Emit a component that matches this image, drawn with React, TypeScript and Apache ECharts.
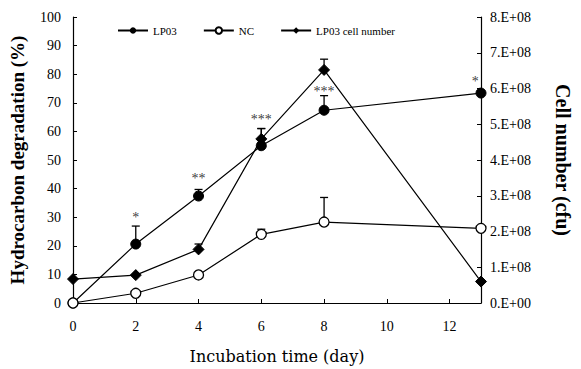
import React, { useEffect, useRef } from "react";
import * as echarts from "echarts";

const days = [0, 2, 4, 6, 8, 13];
const lp03 = [0, 20.6, 37.4, 55, 67.4, 73.4];
const lp03Err = [null, 26.9, 39.7, 61, 72.5, null];
const nc = [0, 3.4, 9.8, 24, 28.3, 26.1];
const ncErr = [null, null, null, 25.8, 36.9, null];
const cellNumber = [0.67e8, 0.78e8, 1.5e8, 4.59e8, 6.52e8, 0.6e8];
const cellErr = [null, null, 1.65e8, 4.88e8, 6.82e8, null];
const sigDays = [2, 4, 6, 8, 12.82];
const sigY = [30, 43.5, 64, 74, 77.5];
const sigLabels = ["*", "**", "***", "***", "*"];

const FONT = "'Liberation Serif', 'DejaVu Serif', serif";
const WIDE = "'DejaVu Serif', serif";

function errData(vals: (number | null)[], tops: (number | null)[]) {
  const out: number[][] = [];
  days.forEach((d, i) => {
    const t = tops[i];
    if (t !== null && t !== undefined) out.push([d, vals[i] as number, t]);
  });
  return out;
}

const errRender = (params: any, api: any) => {
  const x = api.value(0);
  const y = api.value(1);
  const t = api.value(2);
  const p0 = api.coord([x, y]);
  const p1 = api.coord([x, t]);
  const st = { stroke: "#000", lineWidth: 1.3 };
  return {
    type: "group",
    children: [
      { type: "line", shape: { x1: p0[0], y1: p0[1], x2: p1[0], y2: p1[1] }, style: st },
      { type: "line", shape: { x1: p1[0] - 4, y1: p1[1], x2: p1[0] + 4, y2: p1[1] }, style: st },
    ],
  };
};

export default function App() {
  const ref = useRef<HTMLDivElement>(null);
  useEffect(() => {
    if (!ref.current) return;
    const chart = echarts.init(ref.current, null, { renderer: "svg" });
    const axisLine = { show: true, lineStyle: { color: "#000", width: 1.2 } };
    const axisTick = { show: true, inside: true, length: 4, lineStyle: { color: "#000" } };
    chart.setOption({
      animation: false,
      backgroundColor: "#fff",
      textStyle: { fontFamily: FONT },
      grid: { left: 70, right: 89, top: 17, bottom: 65 },
      legend: {
        top: 20,
        left: 112,
        itemWidth: 30,
        itemHeight: 8,
        itemGap: 26,
        textStyle: { fontFamily: FONT, fontSize: 11, color: "#000" },
        data: ["LP03", "NC", "LP03 cell number"],
      },
      xAxis: {
        type: "value",
        min: 0,
        max: 13,
        interval: 2,
        axisLine,
        axisTick,
        splitLine: { show: false },
        axisLabel: {
          color: "#000",
          fontFamily: FONT,
          fontSize: 14,
          margin: 16,
          formatter: (v: number) => (v === 13 ? "" : String(v)),
        },
        name: "Incubation time (day)",
        nameLocation: "middle",
        nameGap: 45,
        nameTextStyle: { color: "#000", fontFamily: WIDE, fontSize: 16 },
      },
      yAxis: [
        {
          type: "value",
          min: 0,
          max: 100,
          interval: 10,
          axisLine,
          axisTick,
          splitLine: { show: false },
          axisLabel: { color: "#000", fontFamily: FONT, fontSize: 14, margin: 12 },
          name: "Hydrocarbon degradation (%)",
          nameLocation: "middle",
          nameGap: 46,
          nameTextStyle: { color: "#000", fontFamily: FONT, fontSize: 19, fontWeight: "bold" },
        },
        {
          type: "value",
          min: 0,
          max: 8e8,
          interval: 1e8,
          position: "right",
          axisLine,
          axisTick,
          splitLine: { show: false },
          axisLabel: {
            color: "#000",
            fontFamily: FONT,
            fontSize: 14,
            margin: 9,
            formatter: (v: number) => `${Math.round(v / 1e8)}.E+${v === 0 ? "00" : "08"}`,
          },
          name: "Cell number (cfu)",
          nameLocation: "middle",
          nameGap: 72,
          nameRotate: -90,
          nameTextStyle: { color: "#000", fontFamily: FONT, fontSize: 20, fontWeight: "bold" },
        },
      ],
      series: [
        {
          type: "custom",
          name: "lp03err",
          yAxisIndex: 0,
          renderItem: errRender,
          data: errData(lp03, lp03Err),
          z: 1,
          silent: true,
        },
        {
          type: "custom",
          name: "ncerr",
          yAxisIndex: 0,
          renderItem: errRender,
          data: errData(nc, ncErr),
          z: 1,
          silent: true,
        },
        {
          type: "custom",
          name: "cellerr",
          yAxisIndex: 1,
          renderItem: errRender,
          data: errData(cellNumber, cellErr),
          z: 1,
          silent: true,
        },
        {
          type: "line",
          name: "LP03",
          yAxisIndex: 0,
          data: days.map((d, i) => [d, lp03[i]]),
          symbol: "circle",
          symbolSize: 10,
          lineStyle: { color: "#000", width: 1.2 },
          itemStyle: { color: "#000", borderColor: "#000" },
          z: 3,
        },
        {
          type: "line",
          name: "NC",
          yAxisIndex: 0,
          data: days.map((d, i) => [d, nc[i]]),
          symbol: "circle",
          symbolSize: 10,
          lineStyle: { color: "#000", width: 1.2 },
          itemStyle: { color: "#fff", borderColor: "#000", borderWidth: 1.3 },
          z: 3,
        },
        {
          type: "line",
          name: "LP03 cell number",
          yAxisIndex: 1,
          data: days.map((d, i) => [d, cellNumber[i]]),
          symbol: "diamond",
          symbolSize: 11,
          lineStyle: { color: "#000", width: 1.2 },
          itemStyle: { color: "#000", borderColor: "#000" },
          z: 3,
        },
        {
          type: "scatter",
          name: "sig",
          yAxisIndex: 0,
          symbolSize: 1,
          itemStyle: { color: "rgba(0,0,0,0)" },
          data: sigDays.map((d, i) => [d, sigY[i], sigLabels[i]]),
          label: {
            show: true,
            position: "inside",
            color: "#000",
            textBorderWidth: 0,
            fontFamily: FONT,
            fontSize: 14,
            formatter: (p: any) => p.value[2],
          },
          silent: true,
        },
      ],
    });
    return () => chart.dispose();
  }, []);
  return (
    <div
      ref={ref}
      style={{ position: "fixed", left: 0, top: 0, width: 581, height: 369, overflow: "hidden" }}
    />
  );
}
